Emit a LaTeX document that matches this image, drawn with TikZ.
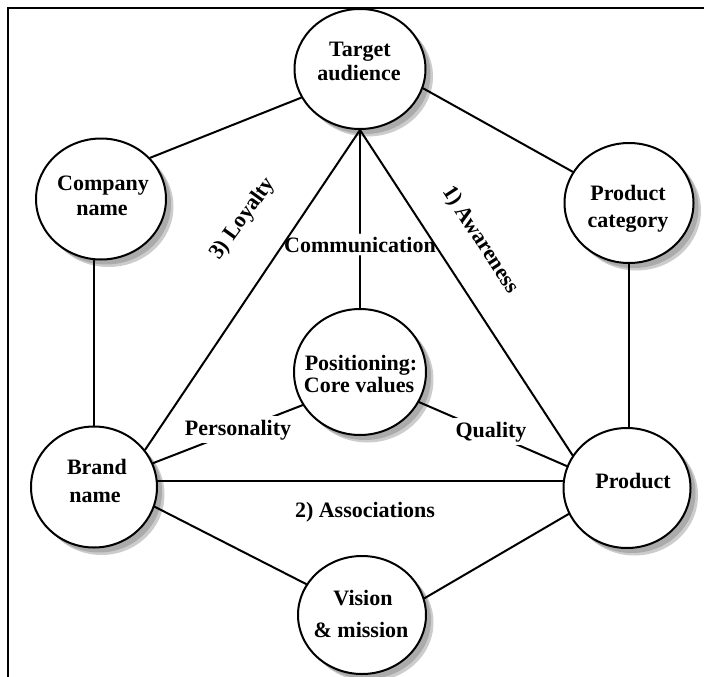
\documentclass[tikz,border=0pt]{standalone}
\usepackage{fontspec}
\setmainfont{Liberation Serif}
\usetikzlibrary{shapes.geometric,shadows}
\begin{document}
\begin{tikzpicture}[x=1pt,y=-1pt,
  bubble/.style={ellipse, draw=black, line width=2pt, fill=white, inner sep=0pt,
    drop shadow={shadow xshift=7.5pt, shadow yshift=-7.5pt, fill=black!20, opacity=1, draw=none},
    drop shadow={shadow xshift=5pt, shadow yshift=-5pt, fill=black!33, opacity=1, draw=none}},
  txt/.style={font=\fontsize{22}{26}\selectfont\bfseries, anchor=base, inner sep=0pt},
  lbl/.style={font=\fontsize{22}{26}\selectfont\bfseries, anchor=base, inner sep=3.5pt},
  conn/.style={line width=2pt, line cap=round},
  frame/.style={line width=2.6pt}]
\useasboundingbox (0,0) rectangle (704,677);
\draw[frame] (8,677) -- (8,8) -- (704,8);

% bubbles
\node[bubble, minimum width=131pt, minimum height=120pt] (ta)  at (360,69)  {};
\node[bubble, minimum width=130pt, minimum height=121pt] (cn)  at (101,199) {};
\node[bubble, minimum width=129pt, minimum height=120pt] (pc)  at (629,203) {};
\node[bubble, minimum width=132pt, minimum height=126pt] (pos) at (360,372) {};
\node[bubble, minimum width=126pt, minimum height=121pt] (bn)  at (94,487)  {};
\node[bubble, minimum width=127pt, minimum height=120pt] (pr)  at (627,488) {};
\node[bubble, minimum width=128pt, minimum height=118pt] (vm)  at (362,615) {};

% texts in bubbles
\node[txt] (ta1) at (360,57)  {Target};
\node[txt] (ta2) at (359,81)  {audience};
\node[txt] (cn1) at (103,190) {Company};
\node[txt] (cn2) at (102,215) {name};
\node[txt] (pc1) at (628,200) {Product};
\node[txt] (pc2) at (628,227) {category};
\node[txt] (po1) at (361,370) {Positioning:};
\node[txt] (po2) at (359,392) {Core values};
\node[txt] (bn1) at (97,474)  {Brand};
\node[txt] (bn2) at (95,502)  {name};
\node[txt] (pr1) at (633,488) {Product};
\node[txt] (vm1) at (363,605) {Vision};
\node[txt] (vm2) at (361,637) {\& mission};

% communication label
\node[lbl] (comm) at (360,252) {Communication};

% connectors
\draw[conn] (ta.206) -- (cn.40);
\draw[conn] (ta.343) -- (pc.151);
\draw[conn] (ta.south) -- (comm.north);
\draw[conn] (comm.south) -- (pos.north);
\draw[conn] (ta.south) -- (bn.36);
\draw[conn] (ta.south) -- (pr.149);
\draw[conn] (bn.north) -- (bn.north |- cn.south);
\draw[conn] (pc.south) -- (pc.south |- pr.north);
\draw[conn] (bn.5) -- (bn.5 -| pr.west);
\draw[conn] (bn.342) -- (vm.151);
\draw[conn] (pr.204) -- (vm.15);
\draw[conn] (pos.210) -- (bn.22);
\draw[conn] (pos.333) -- (pr.160);

% edge labels
\node[lbl, fill=white] (pers) at (238,435) {Personality};
\node[lbl, fill=white] (qual) at (491,437) {Quality};
\node[lbl, anchor=center, rotate=54] (loy) at (243,219) {3) Loyalty};
\node[lbl, anchor=center, rotate=-57] (awa) at (480,240) {1) Awareness};
\node[lbl] (asso) at (365,517) {2) Associations};
\end{tikzpicture}
\end{document}
